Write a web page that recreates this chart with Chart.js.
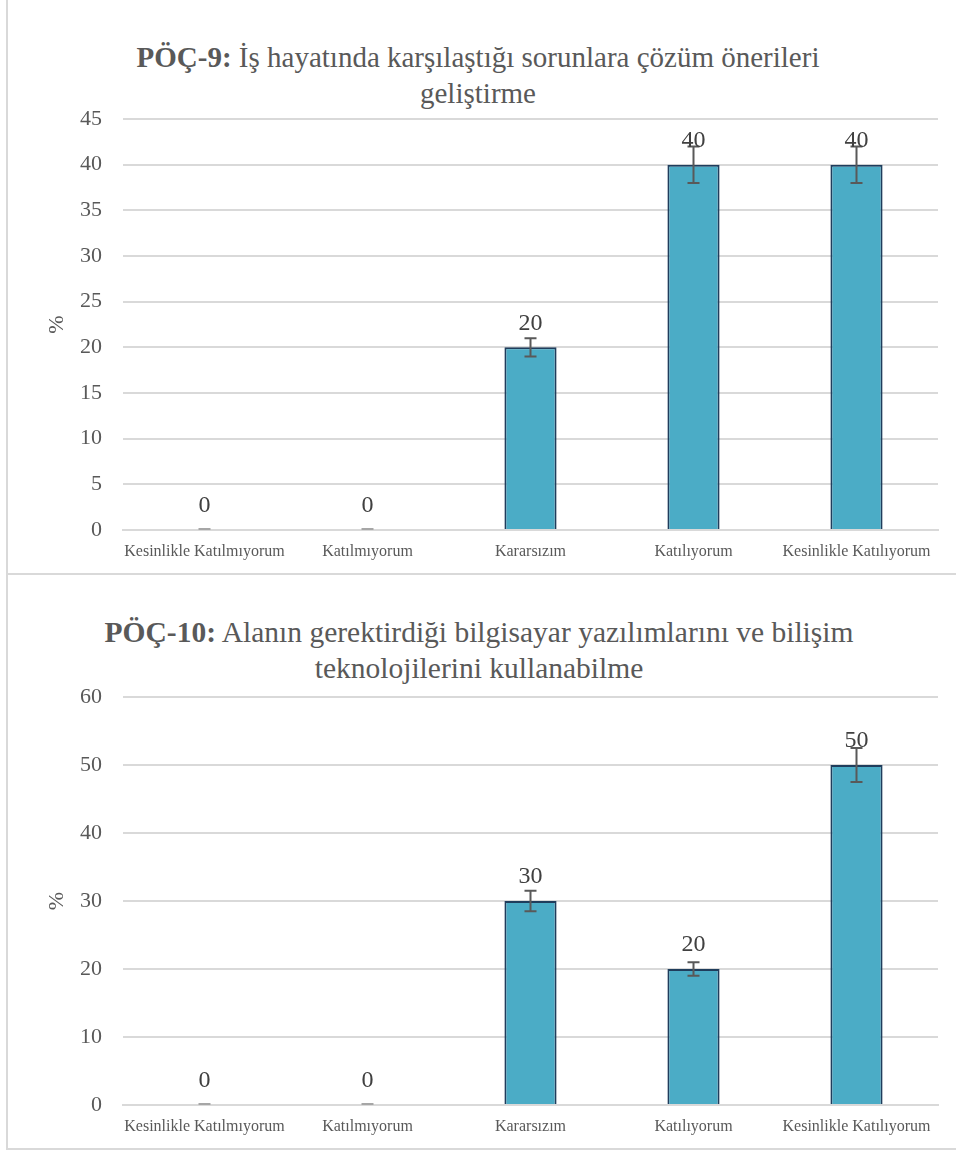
<!DOCTYPE html>
<html>
<head>
<meta charset="utf-8">
<script src="https://cdn.jsdelivr.net/npm/chart.js@4.4.1/dist/chart.umd.min.js"></script>
<style>
  html, body { margin:0; padding:0; background:#fff; }
  body { width:956px; height:1153px; position:relative; overflow:hidden; font-family:'Liberation Serif'; }
  .panel { position:absolute; border-left:2px solid #d9d9d9; border-bottom:2px solid #d9d9d9; box-sizing:border-box; }
  .title { position:absolute; left:0; width:956px; text-align:center; color:#595959; font-size:29px; line-height:36px; font-family:'Liberation Serif'; }
  .title b { font-weight:bold; }
  canvas { position:absolute; left:0; }
</style>
</head>
<body>
<div class="panel" style="left:6px; top:-2px; width:960px; height:577px;"></div>
<div class="panel" style="left:6px; top:573px; width:960px; height:577px;"></div>
<div class="title" style="top:39px;"><b>PÖÇ-9:</b> İş hayatında karşılaştığı sorunlara çözüm önerileri<br>geliştirme</div>
<div class="title" style="top:614px; font-size:29.5px; padding-left:1px;"><b>PÖÇ-10:</b> Alanın gerektirdiği bilgisayar yazılımlarını ve bilişim<br>teknolojilerini kullanabilme</div>
<canvas id="c1" width="956" height="574" style="top:0px;"></canvas>
<canvas id="c2" width="956" height="574" style="top:576px;"></canvas>
<script>
const categories = ['Kesinlikle Katılmıyorum', 'Katılmıyorum', 'Kararsızım', 'Katılıyorum', 'Kesinlikle Katılıyorum'];
const values1 = [0, 0, 20, 40, 40];
const errors1 = [0, 0, 1, 2, 2];
const values2 = [0, 0, 30, 20, 50];
const errors2 = [0, 0, 1.5, 1, 2.5];
const yMax1 = 45, yStep1 = 5;
const yMax2 = 60, yStep2 = 10;
const axisTitle = '%';

const FONT = "'Liberation Serif'";

const errorBarPlugin = {
  id: 'errorBars',
  afterDatasetsDraw(chart, args, opts) {
    const ctx = chart.ctx;
    const meta = chart.getDatasetMeta(0);
    const ys = chart.scales.y;
    const vals = chart.data.datasets[0].data;
    const errs = opts.errors || [];
    ctx.save();
    ctx.strokeStyle = '#595959';
    ctx.lineWidth = 2;
    meta.data.forEach((bar, i) => {
      const v = vals[i], e = errs[i] || 0;
      const x = bar.x;
      const yTop = ys.getPixelForValue(v + e);
      const yBot = ys.getPixelForValue(v - e);
      const hw = 6;
      if (e > 0) {
        ctx.beginPath();
        ctx.moveTo(x, yTop); ctx.lineTo(x, yBot);
        ctx.moveTo(x - hw, yTop); ctx.lineTo(x + hw, yTop);
        ctx.moveTo(x - hw, yBot); ctx.lineTo(x + hw, yBot);
        ctx.stroke();
      } else {
        ctx.save();
        ctx.strokeStyle = '#a6a6a6';
        ctx.beginPath();
        ctx.moveTo(x - hw, yTop - 1); ctx.lineTo(x + hw, yTop - 1);
        ctx.stroke();
        ctx.restore();
      }
    });
    ctx.fillStyle = '#404040';
    ctx.font = '24px ' + FONT;
    ctx.textAlign = 'center';
    ctx.textBaseline = 'middle';
    meta.data.forEach((bar, i) => {
      ctx.fillText(String(vals[i]), bar.x, ys.getPixelForValue(vals[i]) - 24);
    });
    ctx.restore();
  }
};

function makeChart(id, values, errors, yMax, yStep, padTop, xHeight) {
  return new Chart(document.getElementById(id), {
    type: 'bar',
    data: {
      labels: categories,
      datasets: [{
        data: values,
        backgroundColor: '#4bacc6',
        borderColor: '#1f3d5c',
        borderWidth: 2,
        barPercentage: 0.32,
        categoryPercentage: 1.0
      }]
    },
    plugins: [errorBarPlugin],
    options: {
      responsive: false,
      animation: false,
      layout: { padding: { top: padTop, right: 18, bottom: 0, left: 0 } },
      plugins: {
        legend: { display: false },
        tooltip: { enabled: false },
        title: { display: false },
        errorBars: { errors: errors }
      },
      scales: {
        x: {
          grid: { display: false, drawTicks: false },
          border: { display: true, color: '#d9d9d9', width: 2 },
          ticks: { color: '#595959', font: { family: FONT, size: 16 }, padding: 12, maxRotation: 0, autoSkip: false },
          afterFit(s) { s.height = xHeight; }
        },
        y: {
          min: 0, max: yMax,
          grid: { color: '#d9d9d9', lineWidth: 2, drawTicks: false },
          border: { display: false },
          ticks: { stepSize: yStep, color: '#595959', font: { family: FONT, size: 22 }, padding: 21 },
          title: { display: true, text: axisTitle, color: '#595959', font: { family: FONT, size: 22 }, padding: { top: 44, bottom: 0 } },
          afterFit(s) { s.width = 123; }
        }
      }
    }
  });
}

makeChart('c1', values1, errors1, yMax1, yStep1, 119, 44);
makeChart('c2', values2, errors2, yMax2, yStep2, 121, 45);
</script>
</body>
</html>
